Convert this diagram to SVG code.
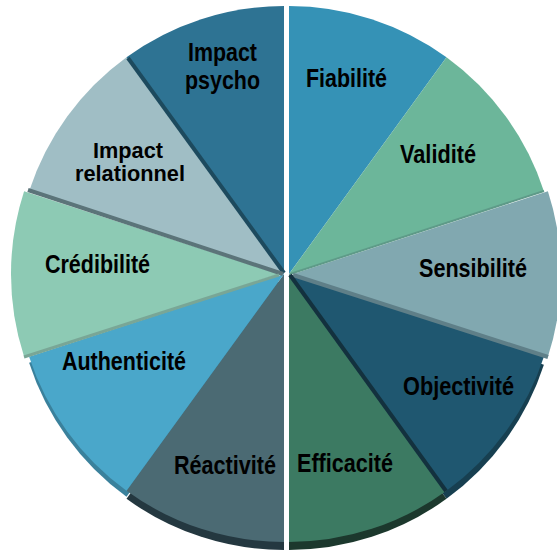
<svg xmlns="http://www.w3.org/2000/svg" width="557" height="553" viewBox="0 0 557 553">
<style>
text{font-family:"Liberation Sans",Arial,sans-serif;font-weight:bold;font-size:26px;fill:#000;}
.two{font-size:22px;}
.sep{fill:none;stroke-linecap:butt;}
</style>
<rect width="557" height="553" fill="#fff"/>
<g id="depth">
<path d="M289,282 L543.9,364.8 A268,268 0 0 1 446.5,498.8 Z" fill="#173f50"/>
<path d="M289,282 L446.5,498.8 A268,268 0 0 1 289,550 Z" fill="#1c382d"/>
<path d="M284,282 L284,550 A268,268 0 0 1 126.5,498.8 Z" fill="#243840"/>
<path d="M284,280 L126.5,496.8 A268,268 0 0 1 29.1,362.8 Z" fill="#3a819c"/>
</g>
<g id="fiabilite"><path d="M289,274 L289,6 A268,268 0 0 1 446.5,57.2 Z" fill="#3592b6"/><text x="306" y="87" textLength="81" lengthAdjust="spacingAndGlyphs">Fiabilité</text></g>
<g id="validite"><path d="M289,274 L446.5,57.2 A268,268 0 0 1 543.9,191.2 Z" fill="#6cb69a"/><text x="400" y="163" textLength="76" lengthAdjust="spacingAndGlyphs">Validité</text></g>
<g id="sensibilite"><path d="M293,274 L547.9,191.2 A268,268 0 0 1 547.9,356.8 Z" fill="#81a8b0"/><text x="419" y="277" textLength="108" lengthAdjust="spacingAndGlyphs">Sensibilité</text></g>
<g id="objectivite"><path d="M289,274 L543.9,356.8 A268,268 0 0 1 446.5,490.8 Z" fill="#1f5770"/><text x="403" y="395" textLength="111" lengthAdjust="spacingAndGlyphs">Objectivité</text></g>
<g id="efficacite"><path d="M289,274 L446.5,490.8 A268,268 0 0 1 289,542 Z" fill="#3c7a62"/><text x="297" y="472" textLength="96" lengthAdjust="spacingAndGlyphs">Efficacité</text></g>
<g id="reactivite"><path d="M284,274 L284,542 A268,268 0 0 1 126.5,490.8 Z" fill="#4b6a73"/><text x="174" y="474" textLength="102" lengthAdjust="spacingAndGlyphs">Réactivité</text></g>
<g id="authenticite"><path d="M284,274 L126.5,490.8 A268,268 0 0 1 29.1,356.8 Z" fill="#4aa7ca"/><text x="62" y="370" textLength="124" lengthAdjust="spacingAndGlyphs">Authenticité</text></g>
<g id="credibilite"><path d="M279,274 L24.1,356.8 A268,268 0 0 1 24.1,191.2 Z" fill="#8dcab4"/><text x="45" y="273" textLength="105" lengthAdjust="spacingAndGlyphs">Crédibilité</text></g>
<g id="impact-relationnel"><path d="M284,274 L29.1,191.2 A268,268 0 0 1 126.5,57.2 Z" fill="#a0bec5"/><text class="two" x="93" y="158" textLength="70" lengthAdjust="spacingAndGlyphs">Impact</text><text class="two" x="75" y="181" textLength="110" lengthAdjust="spacingAndGlyphs">relationnel</text></g>
<g id="impact-psycho"><path d="M284,274 L126.5,57.2 A268,268 0 0 1 284,6 Z" fill="#2e7393"/><text x="188" y="61" textLength="69" lengthAdjust="spacingAndGlyphs" style="font-size:25px">Impact</text><text x="185" y="89" textLength="75" lengthAdjust="spacingAndGlyphs" style="font-size:25px">psycho</text></g>
<g id="connectors">
<path class="sep" d="M128,58 L284,273" stroke="#1d4a5e" stroke-width="4"/>
<path class="sep" d="M28,190 L283,274" stroke="#5b7479" stroke-width="4"/>
<path class="sep" d="M24,357 L279,275" stroke="#79a696" stroke-width="3"/>
<path class="sep" d="M544,191 L290,274" stroke="#5e9a88" stroke-width="2"/>
<path class="sep" d="M548,357 L293,275" stroke="#5f7f88" stroke-width="4"/>
<path class="sep" d="M446,491 L290,275" stroke="#13313e" stroke-width="4"/>
</g>
</svg>
